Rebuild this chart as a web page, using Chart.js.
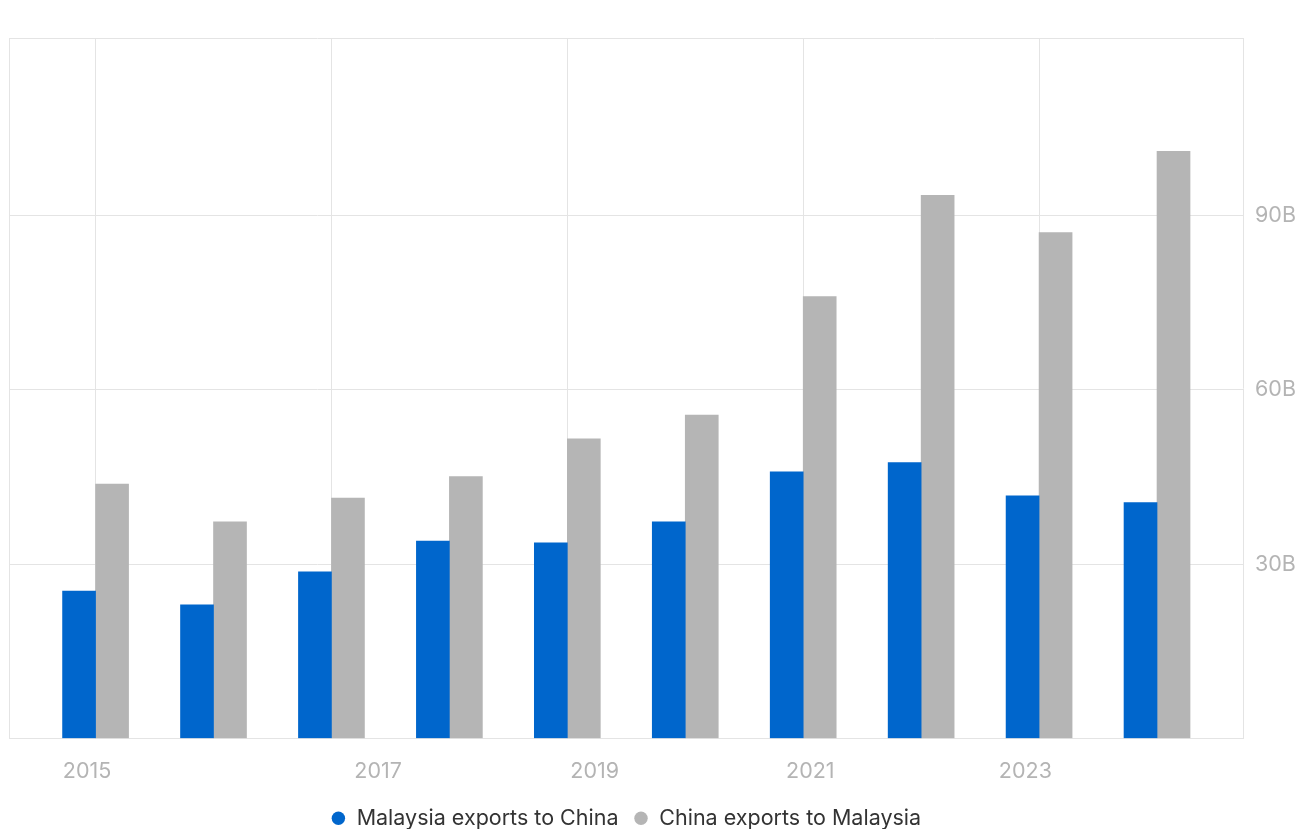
<!DOCTYPE html>
<html>
<head>
<meta charset="utf-8">
<script src="https://cdn.jsdelivr.net/npm/chart.js@4.4.1/dist/chart.umd.min.js"></script>
<style>
  html, body { margin: 0; padding: 0; background: #ffffff; overflow: hidden; }
  #wrap { width: 1308px; height: 829px; position: relative; }
</style>
</head>
<body>
<div id="wrap"><canvas id="c" width="1308" height="829"></canvas></div>
<script>
// ---- data ----
const years = [2015, 2016, 2017, 2018, 2019, 2020, 2021, 2022, 2023, 2024];
const malaysiaToChina = [25.4, 23.0, 28.7, 34.0, 33.7, 37.3, 45.9, 47.5, 41.8, 40.6]; // billions USD
const chinaToMalaysia = [43.8, 37.3, 41.4, 45.1, 51.6, 55.7, 76.1, 93.5, 87.1, 101.1]; // billions USD
const seriesNames = ['Malaysia exports to China', 'China exports to Malaysia'];
const xTickLabels = ['2015', '2017', '2019', '2021', '2023'];
const yTickValues = [30, 60, 90];

// ---- layout helpers (not data) ----
const xRange = { min: 2014.266, max: 2024.729 };
const xGridYears = [2015, 2017, 2019, 2021, 2023];
const xLabelAnchors = [2014.928, 2017.396, 2019.232, 2021.060, 2022.884];
const yMax = 120.6;

const gridColor = '#e4e4e4';
const tickColor = '#b4b4b4';
const fontFamily = 'Inter, "Noto Sans", sans-serif';

new Chart(document.getElementById('c'), {
  type: 'bar',
  data: {
    datasets: [
      {
        label: seriesNames[0],
        data: years.map((y, i) => ({ x: y, y: malaysiaToChina[i] })),
        backgroundColor: '#0066cc',
        borderWidth: 0
      },
      {
        label: seriesNames[1],
        data: years.map((y, i) => ({ x: y, y: chinaToMalaysia[i] })),
        backgroundColor: '#b5b5b5',
        borderWidth: 0
      }
    ]
  },
  options: {
    responsive: false,
    animation: false,
    devicePixelRatio: 1,
    barThickness: 33,
    layout: { padding: { left: 9, top: 38, right: 0, bottom: -10 } },
    plugins: {
      tooltip: { enabled: false },
      legend: {
        position: 'bottom',
        fullSize: false,
        labels: {
          usePointStyle: true,
          pointStyle: 'circle',
          boxWidth: 15,
          boxHeight: 9.5,
          padding: 15,
          color: '#333333',
          font: { family: fontFamily, size: 21.5 }
        }
      }
    },
    scales: {
      x: {
        type: 'linear',
        position: 'bottom',
        min: xRange.min,
        max: xRange.max,
        offset: false,
        afterBuildTicks: (axis) => {
          axis.ticks = [xRange.min].concat(xGridYears).map(v => ({ value: v }));
        },
        grid: { color: gridColor, lineWidth: 1, offset: false, drawTicks: false },
        border: { display: true, color: gridColor },
        ticks: { display: false }
      },
      xl: {
        type: 'linear',
        position: 'bottom',
        min: xRange.min,
        max: xRange.max,
        offset: false,
        afterBuildTicks: (axis) => {
          axis.ticks = xLabelAnchors.map(v => ({ value: v }));
        },
        afterFit: (axis) => { axis.height = 54; },
        grid: { display: false, drawTicks: false, offset: false },
        border: { display: false },
        ticks: {
          autoSkip: false,
          maxRotation: 0,
          padding: 20,
          color: tickColor,
          font: { family: fontFamily, size: 21.5 },
          callback: (v, i) => xTickLabels[i]
        }
      },
      y: {
        position: 'right',
        min: 0,
        max: yMax,
        afterBuildTicks: (axis) => {
          axis.ticks = [0].concat(yTickValues, [yMax]).map(v => ({ value: v }));
        },
        afterFit: (axis) => { axis.width = 65; },
        grid: { color: gridColor, lineWidth: 1, drawTicks: false },
        border: { display: true, color: gridColor },
        ticks: {
          padding: 12,
          color: tickColor,
          font: { family: fontFamily, size: 21.5 },
          callback: (v) => yTickValues.includes(v) ? v + 'B' : ''
        }
      }
    }
  }
});
</script>
</body>
</html>
